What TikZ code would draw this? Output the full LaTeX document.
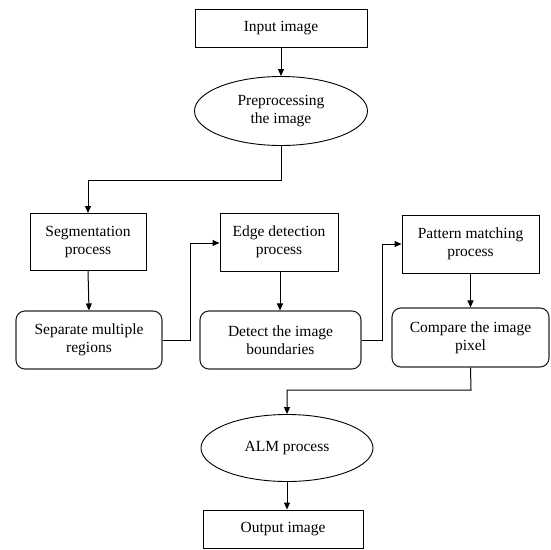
\documentclass[tikz,border=0pt]{standalone}
\usepackage{fontspec}
\setmainfont{Liberation Serif}
\usetikzlibrary{arrows.meta,shapes.geometric}
\begin{document}
\begin{tikzpicture}[x=1pt,y=-1pt,
  every node/.style={font=\fontsize{15.5}{18}\selectfont, align=center, inner sep=0pt},
  box/.style={draw, line width=1pt},
  rbox/.style={draw=black!85, line width=1.1pt, rounded corners=9pt},
  oval/.style={draw, ellipse, line width=0.9pt},
  conn/.style={line width=1pt},
  arr/.style={conn, -{Triangle[length=7pt,width=6pt]}}]
\useasboundingbox (0,0) rectangle (551,549);
\node[box, minimum width=172pt, minimum height=38pt] (in) at (281,28) {Input image};
\node[oval, minimum width=173pt, minimum height=69pt] (pre) at (281,111) {Preprocessing\\the image};
\node[box, minimum width=116pt, minimum height=57pt] (seg) at (88,242) {Segmentation\\process};
\node[rbox, minimum width=146pt, minimum height=58pt] (sep) at (89,340) {Separate multiple\\regions};
\node[box, minimum width=118pt, minimum height=58pt] (edge) at (279,242) {Edge detection\\process};
\node[rbox, minimum width=161pt, minimum height=58pt] (det) at (280.5,340) {Detect the image\\boundaries};
\node[box, minimum width=137pt, minimum height=58pt] (pat) at (470.5,244) {Pattern matching\\process};
\node[rbox, minimum width=157pt, minimum height=59pt] (cmp) at (470.5,337.5) {Compare the image\\pixel};
\node[oval, minimum width=172pt, minimum height=67pt] (alm) at (287,448) {ALM process};
\node[box, minimum width=160pt, minimum height=38pt] (out) at (283,529) {Output image};
\coordinate (c1) at (281,180);
\coordinate (c2) at (88,180);
\draw[arr] (in.south) -- (pre.north);
\draw[arr] (pre.south) -- (c1) -- (c2) -- (seg.north);
\draw[arr] (seg.south) -- (sep.north);
\draw[arr] (sep.east) -- (190,340) -- (190,243) -- (edge.west |- 0,243);
\draw[arr] (edge.south -| 280,0) -- (det.north -| 280,0);
\draw[arr] (det.east) -- (382,340) -- (382,244) -- (pat.west);
\draw[arr] (pat.south) -- (cmp.north);
\draw[arr] (cmp.south) -- (471,390) -- (287,390) -- (alm.north);
\draw[arr] (alm.south) -- (out.north -| alm.south);
\end{tikzpicture}
\end{document}
